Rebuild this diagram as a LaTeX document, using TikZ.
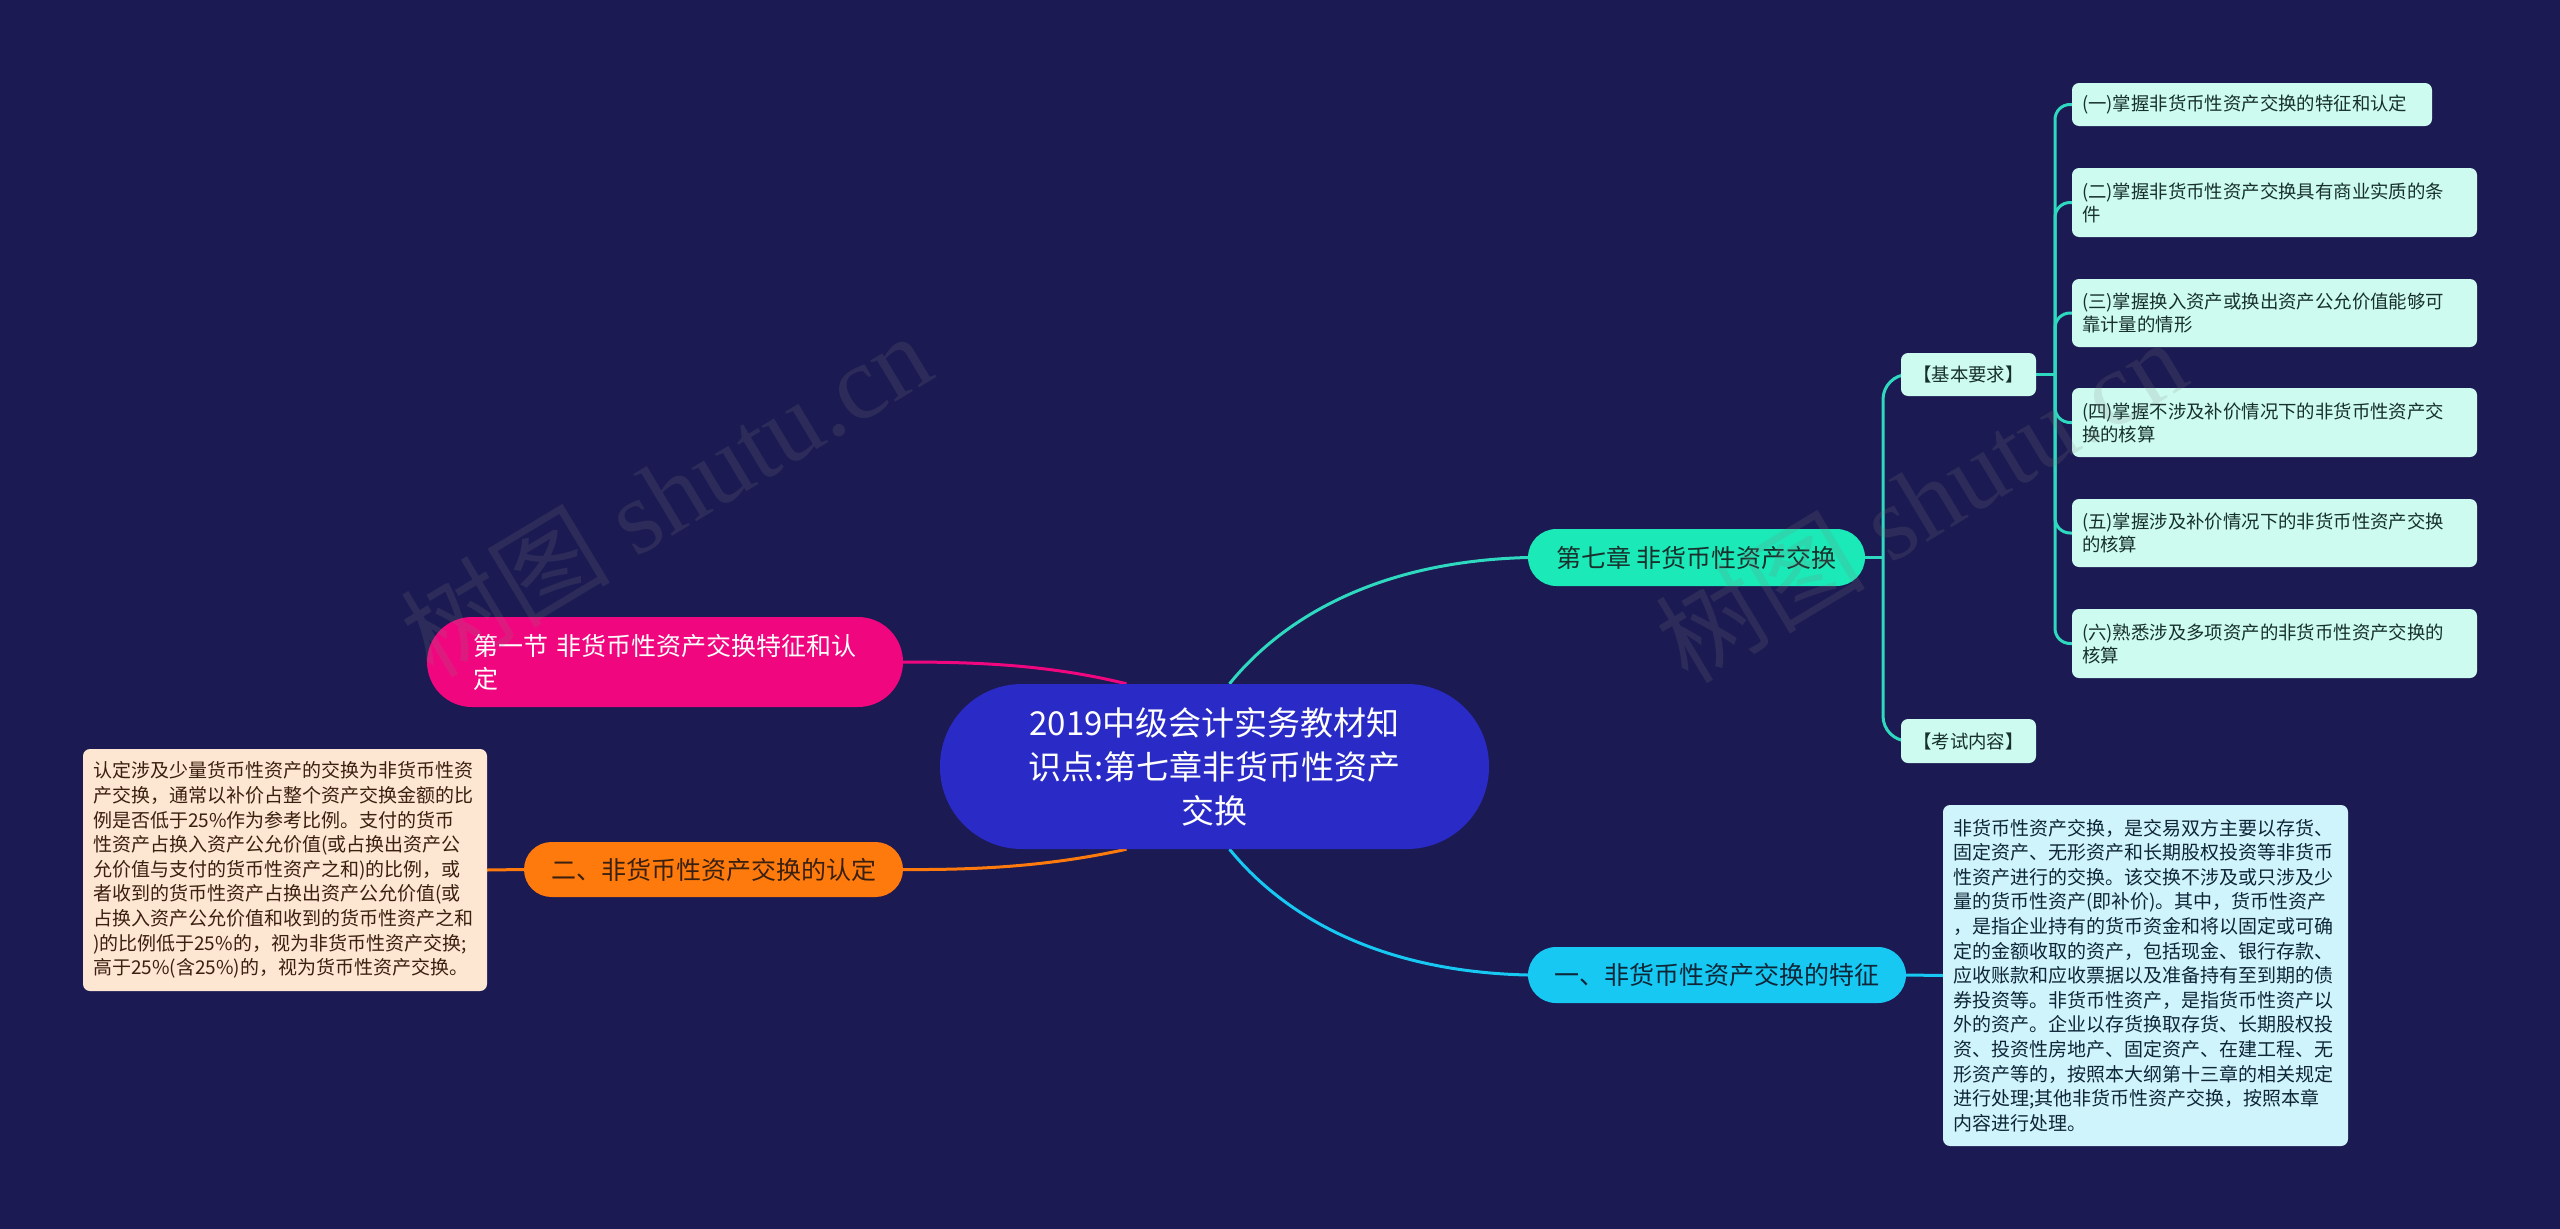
\documentclass[tikz,border=0pt]{standalone}
\usepackage{fontspec}
\newfontfamily\cjk{Noto Sans CJK SC}
\newfontfamily\wmfont{Liberation Serif}
\usetikzlibrary{calc}
\definecolor{bgc}{HTML}{1B1A52}
\definecolor{centerF}{HTML}{2A2AC6}
\definecolor{tealF}{HTML}{1BE9B8}
\definecolor{tealL}{HTML}{2ED9C0}
\definecolor{cyanF}{HTML}{16C8F2}
\definecolor{pinkF}{HTML}{F0077F}
\definecolor{orangeF}{HTML}{FF7A0C}
\definecolor{mintF}{HTML}{CDFBF0}
\definecolor{skyF}{HTML}{D0F4FC}
\definecolor{peachF}{HTML}{FDE6D2}
\definecolor{darkT}{HTML}{17302C}
\definecolor{navyT}{HTML}{0E2638}
\definecolor{brownT}{HTML}{3A2010}
\pgfdeclarelayer{bglayer}
\pgfdeclarelayer{edges}
\pgfdeclarelayer{toplayer}
\pgfsetlayers{bglayer,edges,main,toplayer}
\tikzset{
  lvone/.style={inner sep=0pt, align=center, font=\cjk\fontsize{25}{33}\selectfont},
  leafbox/.style={fill=mintF, text=darkT, rounded corners=7, inner xsep=10pt, inner ysep=0pt,
    align=left, font=\cjk\fontsize{18.4}{23}\selectfont},
  descbox/.style={rounded corners=7, inner xsep=10pt, inner ysep=0pt, align=left,
    font=\cjk\fontsize{19}{24.6}\selectfont},
  conn/.style={line width=3pt},
  wm/.style={text=gray, opacity=0.17, font=\wmfont\fontsize{105}{105}\selectfont, inner sep=0pt}
}
\begin{document}
\begin{tikzpicture}[x=1pt,y=-1pt]
\begin{pgfonlayer}{bglayer}
\fill[bgc] (0,0) rectangle (2560,1229);
\end{pgfonlayer}
\useasboundingbox (0,0) rectangle (2560,1229);

% center
\node[fill=centerF, text=white, rounded corners=82, minimum width=549, minimum height=165,
  inner sep=0pt, align=center, font=\cjk\fontsize{33}{44}\selectfont] (c) at (1214.5,766.5)
  {2019中级会计实务教材知\\识点:第七章非货币性资产\\交换};

% level one
\node[lvone, fill=tealF, text=darkT, minimum width=337, minimum height=57, rounded corners=28.5] (ch7) at (1696.5,557.5) {第七章 非货币性资产交换};
\node[lvone, fill=cyanF, text=navyT, minimum width=378, minimum height=56, rounded corners=28] (y1) at (1717,975) {一、非货币性资产交换的特征};
\node[lvone, fill=pinkF, text=white, minimum height=90, rounded corners=45, inner xsep=46pt, text width=384, align=left] (s1) at (665,662) {第一节 非货币性资产交换特征和认\\定};
\node[lvone, fill=orangeF, text=brownT, minimum width=379, minimum height=55, rounded corners=27.5] (e2) at (713.5,869.5) {二、非货币性资产交换的认定};

% level two
\node[leafbox, inner xsep=0pt, minimum width=135, minimum height=43, align=center] (kb) at (1968.5,374.5) {【基本要求】};
\node[leafbox, inner xsep=0pt, minimum width=135, minimum height=44, align=center] (ks) at (1968.5,741) {【考试内容】};

% leaves
\node[leafbox, text width=340, minimum height=43] (l1) at (2252,104.5) {(一)掌握非货币性资产交换的特征和认定};
\node[leafbox, text width=385, minimum height=69] (l2) at (2274.5,202.5) {(二)掌握非货币性资产交换具有商业实质的条\\件};
\node[leafbox, text width=385, minimum height=68] (l3) at (2274.5,313) {(三)掌握换入资产或换出资产公允价值能够可\\靠计量的情形};
\node[leafbox, text width=385, minimum height=69] (l4) at (2274.5,422.5) {(四)掌握不涉及补价情况下的非货币性资产交\\换的核算};
\node[leafbox, text width=385, minimum height=68] (l5) at (2274.5,533) {(五)掌握涉及补价情况下的非货币性资产交换\\的核算};
\node[leafbox, text width=385, minimum height=69] (l6) at (2274.5,643.5) {(六)熟悉涉及多项资产的非货币性资产交换的\\核算};

% descriptions
\node[descbox, fill=skyF, text=navyT, text width=385, minimum height=341] (d1) at (2145.5,975.5)
{非货币性资产交换，是交易双方主要以存货、\\
固定资产、无形资产和长期股权投资等非货币\\
性资产进行的交换。该交换不涉及或只涉及少\\
量的货币性资产(即补价)。其中，货币性资产\\
，是指企业持有的货币资金和将以固定或可确\\
定的金额收取的资产，包括现金、银行存款、\\
应收账款和应收票据以及准备持有至到期的债\\
券投资等。非货币性资产，是指货币性资产以\\
外的资产。企业以存货换取存货、长期股权投\\
资、投资性房地产、固定资产、在建工程、无\\
形资产等的，按照本大纲第十三章的相关规定\\
进行处理;其他非货币性资产交换，按照本章\\
内容进行处理。};

\node[descbox, fill=peachF, text=brownT, text width=384, minimum height=242] (d2) at (285,870)
{认定涉及少量货币性资产的交换为非货币性资\\
产交换，通常以补价占整个资产交换金额的比\\
例是否低于25\%作为参考比例。支付的货币\\
性资产占换入资产公允价值(或占换出资产公\\
允价值与支付的货币性资产之和)的比例，或\\
者收到的货币性资产占换出资产公允价值(或\\
占换入资产公允价值和收到的货币性资产之和\\
)的比例低于25\%的，视为非货币性资产交换;\\
高于25\%(含25\%)的，视为货币性资产交换。};

\coordinate (jx) at (1883,557.5);
\coordinate (jk) at (2055,374.5);

\begin{pgfonlayer}{edges}
\draw[conn, tealL] ($(c.north)+(15,0)$) .. controls (1265,640) and (1350,562) .. (ch7.west);
\draw[conn, cyanF] ($(c.south)+(15,0)$) .. controls (1265,893) and (1350,971) .. (y1.west);
\draw[conn, pinkF] ($(c.north)+(-88,0)$) .. controls (1050,665) and (980,662) .. (s1.east);
\draw[conn, orangeF] ($(c.south)+(-88,0)$) .. controls (1050,866) and (980,870) .. (e2.east);
\draw[conn, cyanF] (y1.east) -- (d1.west);
\draw[conn, orangeF] (e2.west) -- (d2.east);
\draw[conn, tealL] (ch7.east) -- (jx);
\draw[conn, tealL, rounded corners=25] (kb.west) -| (jx) |- (ks.west);
\draw[conn, tealL] (kb.east) -- (jk);
\draw[conn, tealL, rounded corners=15] (l1.west) -| (jk) |- (l6.west);
\foreach \n in {l2,l3,l4,l5} \draw[conn, tealL, rounded corners=15] (jk) |- (\n.west);
\end{pgfonlayer}

\begin{pgfonlayer}{toplayer}
\node[wm, rotate=31] (w1) at (665,494) {{\cjk 树图} shutu.cn};
\node[wm, rotate=31] (w2) at (1920,500) {{\cjk 树图} shutu.cn};
\end{pgfonlayer}
\end{tikzpicture}
\end{document}
